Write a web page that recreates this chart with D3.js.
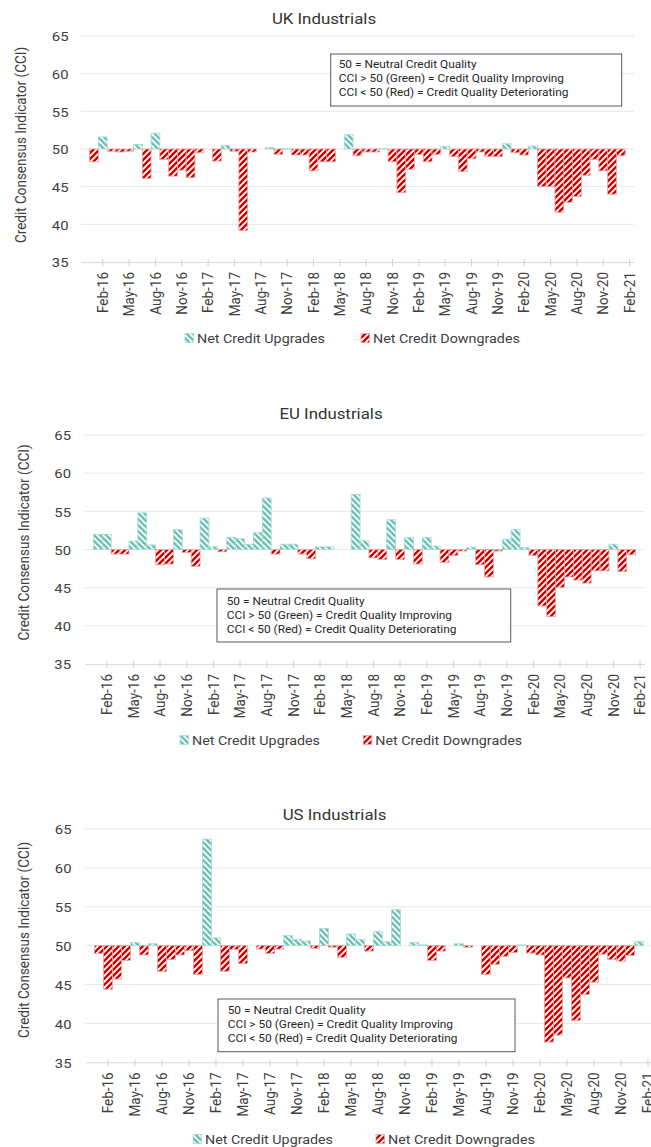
<!DOCTYPE html>
<html>
<head>
<meta charset="utf-8">
<script src="https://cdn.jsdelivr.net/npm/d3@7"></script>
<style>
  html, body { margin: 0; padding: 0; background: #fff; }
  svg { display: block; font-family: Roboto, "Noto Sans", sans-serif; }
</style>
</head>
<body>
<svg id="chart" width="651" height="1147"></svg>
<script>
// Monthly categories (Jan-16 .. Jan-21)
const months = [
  "Jan-16","Feb-16","Mar-16","Apr-16","May-16","Jun-16","Jul-16","Aug-16","Sep-16","Oct-16","Nov-16","Dec-16",
  "Jan-17","Feb-17","Mar-17","Apr-17","May-17","Jun-17","Jul-17","Aug-17","Sep-17","Oct-17","Nov-17","Dec-17",
  "Jan-18","Feb-18","Mar-18","Apr-18","May-18","Jun-18","Jul-18","Aug-18","Sep-18","Oct-18","Nov-18","Dec-18",
  "Jan-19","Feb-19","Mar-19","Apr-19","May-19","Jun-19","Jul-19","Aug-19","Sep-19","Oct-19","Nov-19","Dec-19",
  "Jan-20","Feb-20","Mar-20","Apr-20","May-20","Jun-20","Jul-20","Aug-20","Sep-20","Oct-20","Nov-20","Dec-20",
  "Jan-21"
];
// axis runs one month either side of the data
const axisMonths = ["Dec-15", ...months, "Feb-21"];
const tickLabels = [
  "Feb-16","May-16","Aug-16","Nov-16","Feb-17","May-17","Aug-17","Nov-17","Feb-18","May-18","Aug-18",
  "Nov-18","Feb-19","May-19","Aug-19","Nov-19","Feb-20","May-20","Aug-20","Nov-20","Feb-21"
];
const yTicks = [35, 40, 45, 50, 55, 60, 65];

// Credit Consensus Indicator by month (null = no reading)
const ukCCI = [
  48.3, 51.6, 49.7, 49.6, 49.7, 50.6, 46.1, 52.1, 48.6, 46.4, 47.2, 46.2,
  49.5, null, 48.4, 50.5, 49.7, 39.2, 49.6, null, 50.2, 49.3, 50.05, 49.2,
  49.2, 47.1, 48.3, 48.3, null, 51.9, 49.1, 49.6, 49.6, 50.05, 48.3, 44.2,
  47.3, 49.25, 48.3, 49.25, 50.35, 49.0, 47.0, 48.7, 49.6, 49.0, 49.0, 50.7,
  49.5, 49.2, 50.4, 45.0, 45.0, 41.6, 42.9, 43.7, 46.5, 48.6, 47.1, 44.0,
  49.1
];
const euCCI = [
  52.0, 52.0, 49.4, 49.4, 51.1, 54.8, 50.6, 48.0, 48.1, 52.6, 49.6, 47.8,
  54.1, 50.35, 49.7, 51.6, 51.4, 50.7, 52.2, 56.75, 49.4, 50.7, 50.7, 49.4,
  48.8, 50.35, 50.35, null, null, 57.2, 51.15, 48.9, 48.7, 53.9, 48.7, 51.6,
  48.1, 51.6, 50.45, 48.3, 49.2, 49.8, 50.3, 48.0, 46.4, 49.8, 51.35, 52.6,
  50.25, 49.2, 42.6, 41.2, 45.0, 46.4, 46.0, 45.6, 47.2, 47.2, 50.7, 47.1,
  49.3
];
const usCCI = [
  49.0, 44.4, 45.7, 48.1, 50.4, 48.8, 50.25, 46.7, 48.2, 48.8, 49.35, 46.3,
  63.7, 51.0, 46.7, 49.5, 47.7, null, 49.55, 49.0, 49.55, 51.3, 50.8, 50.6,
  49.65, 52.2, 49.8, 48.5, 51.5, 50.8, 49.3, 51.8, 50.5, 54.65, null, 50.4,
  50.1, 48.1, 49.3, null, 50.25, 49.8, null, 46.3, 47.6, 48.6, 49.1, 50.1,
  49.05, 48.8, 37.6, 38.5, 45.85, 40.4, 43.7, 45.3, 48.9, 48.2, 48.0, 48.75,
  50.55
];

const titles = ["UK Industrials", "EU Industrials", "US Industrials"];
const seriesNames = ["Net Credit Upgrades", "Net Credit Downgrades"];
const noteLines = [
  "50 = Neutral Credit Quality",
  "CCI > 50 (Green) = Credit Quality Improving",
  "CCI < 50 (Red) = Credit Quality Deteriorating"
];
const yTitle = "Credit Consensus Indicator (CCI)";
const NEUTRAL = 50;

// layout of the three stacked panels
const panels = [
  { data: ukCCI, title: titles[0], left: 80.8, right: 634, top: 36, bottom: 262,
    titleX: 324, titleY: 24, yTitleX: 20.7, yTitleY: 145, labelRight: 68.5,
    legendY: 338, legendX: [185, 361],
    box: { x: 330.7, y: 54, w: 291, h: 52, textX: 338.7, firstLine: 64, step: 14 } },
  { data: euCCI, title: titles[1], left: 84.5, right: 644.5, top: 435, bottom: 664,
    titleX: 331, titleY: 418.3, yTitleX: 24, yTitleY: 542.5, labelRight: 71,
    legendY: 740, legendX: [180, 363.3],
    box: { x: 217, y: 589, w: 293.7, h: 53, textX: 226.7, firstLine: 601, step: 14 } },
  { data: usCCI, title: titles[2], left: 85.5, right: 652.5, top: 829, bottom: 1062.3,
    titleX: 334.5, titleY: 820, yTitleX: 24, yTitleY: 940, labelRight: 71.5,
    legendY: 1139, legendX: [193, 376],
    box: { x: 218, y: 999, w: 297, h: 52.7, textX: 227.7, firstLine: 1010, step: 14 } }
];

const SX = 1.1;            // slightly wide lettering
const RED = "#cc0000", GREEN = "#68c3b2";
const TEXT = "#404040";

const svg = d3.select("#chart");
const defs = svg.append("defs");

// hatch fills: upward stripes on red, downward stripes on green
function hatch(id, color, d) {
  const p = defs.append("pattern").attr("id", id)
    .attr("patternUnits", "userSpaceOnUse").attr("width", 6).attr("height", 6);
  p.append("rect").attr("width", 6).attr("height", 6).attr("fill", color);
  p.append("path").attr("d", d).attr("stroke", "#fff").attr("stroke-width", 1.8)
    .attr("stroke-linecap", "square");
}
hatch("hatchDown", RED, "M-1,1 L1,-1 M0,6 L6,0 M5,7 L7,5");
hatch("hatchUp", GREEN, "M-1,5 L1,7 M0,0 L6,6 M5,-1 L7,1");

function label(g, x, y, str, size, anchor, opts = {}) {
  return g.append("text")
    .attr("transform", `translate(${x},${y}) scale(${SX},1)` + (opts.rotate ? " rotate(-90)" : ""))
    .attr("text-anchor", anchor)
    .attr("dy", "0.35em")
    .attr("font-size", size)
    .attr("fill", opts.fill || TEXT)
    .text(str);
}

panels.forEach(p => {
  const g = svg.append("g");

  const x = d3.scaleBand().domain(axisMonths).range([p.left, p.right]).padding(0);
  const y = d3.scaleLinear().domain([35, 65]).range([p.bottom, p.top]);

  // gridlines
  g.append("g").selectAll("line").data(yTicks.filter(v => v !== 35)).join("line")
    .attr("x1", p.left).attr("x2", p.right)
    .attr("y1", d => y(d)).attr("y2", d => y(d))
    .attr("stroke", "#e8e8e8").attr("stroke-width", 1);

  // y axis labels
  const yAxis = g.append("g").attr("transform", `translate(${p.left},0)`)
    .call(d3.axisLeft(y).tickValues(yTicks).tickSize(0));
  yAxis.select(".domain").remove();
  yAxis.selectAll("text")
    .attr("x", null).attr("dy", "0.35em")
    .attr("transform", `translate(${p.labelRight - p.left},0) scale(${SX},1)`)
    .attr("text-anchor", "end")
    .attr("font-family", "Roboto").attr("font-size", 13.5).attr("fill", TEXT);

  // bars measured from the neutral line
  const vals = p.data.map((v, i) => ({ m: months[i], v })).filter(d => d.v != null);
  g.append("g").selectAll("rect").data(vals).join("rect")
    .attr("x", d => x(d.m))
    .attr("width", x.bandwidth())
    .attr("y", d => Math.min(y(d.v), y(NEUTRAL)))
    .attr("height", d => Math.abs(y(d.v) - y(NEUTRAL)))
    .attr("fill", d => d.v >= NEUTRAL ? "url(#hatchUp)" : "url(#hatchDown)")
    .attr("stroke", d => d.v >= NEUTRAL ? "#a9dcd2" : "#e6a4a4")
    .attr("stroke-width", 0.8);

  // x axis at the bottom of the plot
  const xAxis = g.append("g").attr("transform", `translate(0,${p.bottom})`)
    .call(d3.axisBottom(x).tickValues(tickLabels).tickSizeOuter(0).tickSizeInner(4));
  xAxis.select(".domain").attr("stroke", "#d9d9d9");
  xAxis.selectAll(".tick line").attr("y1", -3).attr("y2", 4).attr("stroke", "#cfcfcf");
  xAxis.selectAll(".tick text")
    .attr("x", null).attr("y", null).attr("dy", "0.35em")
    .attr("transform", `translate(0,10) scale(${SX},1) rotate(-90)`)
    .attr("text-anchor", "end")
    .attr("font-family", "Roboto").attr("font-size", 13.5).attr("fill", TEXT);

  // titles
  label(g, p.titleX, p.titleY - 5, p.title, 15.3, "middle", { fill: "#333" });
  label(g, p.yTitleX, p.yTitleY, yTitle, 13.5, "middle", { rotate: true });

  // note box
  const b = p.box;
  g.append("rect").attr("x", b.x).attr("y", b.y).attr("width", b.w).attr("height", b.h)
    .attr("fill", "#fff").attr("stroke", "#595959").attr("stroke-width", 1);
  noteLines.forEach((t, i) => {
    g.append("text")
      .attr("transform", `translate(${b.textX},${b.firstLine + i * b.step}) scale(${SX},1)`)
      .attr("dy", "0.35em").attr("font-size", 10.8).attr("fill", "#262626").text(t);
  });

  // legend
  const fills = ["url(#hatchUp)", "url(#hatchDown)"];
  const strokes = ["#a9dcd2", "#e6a4a4"];
  seriesNames.forEach((name, i) => {
    const lx = p.legendX[i];
    g.append("rect").attr("x", lx).attr("y", p.legendY - 4.5).attr("width", 8.5).attr("height", 9)
      .attr("fill", fills[i]).attr("stroke", strokes[i]).attr("stroke-width", 0.8);
    label(g, lx + 12, p.legendY, name, 13, "start");
  });
});
</script>
</body>
</html>
